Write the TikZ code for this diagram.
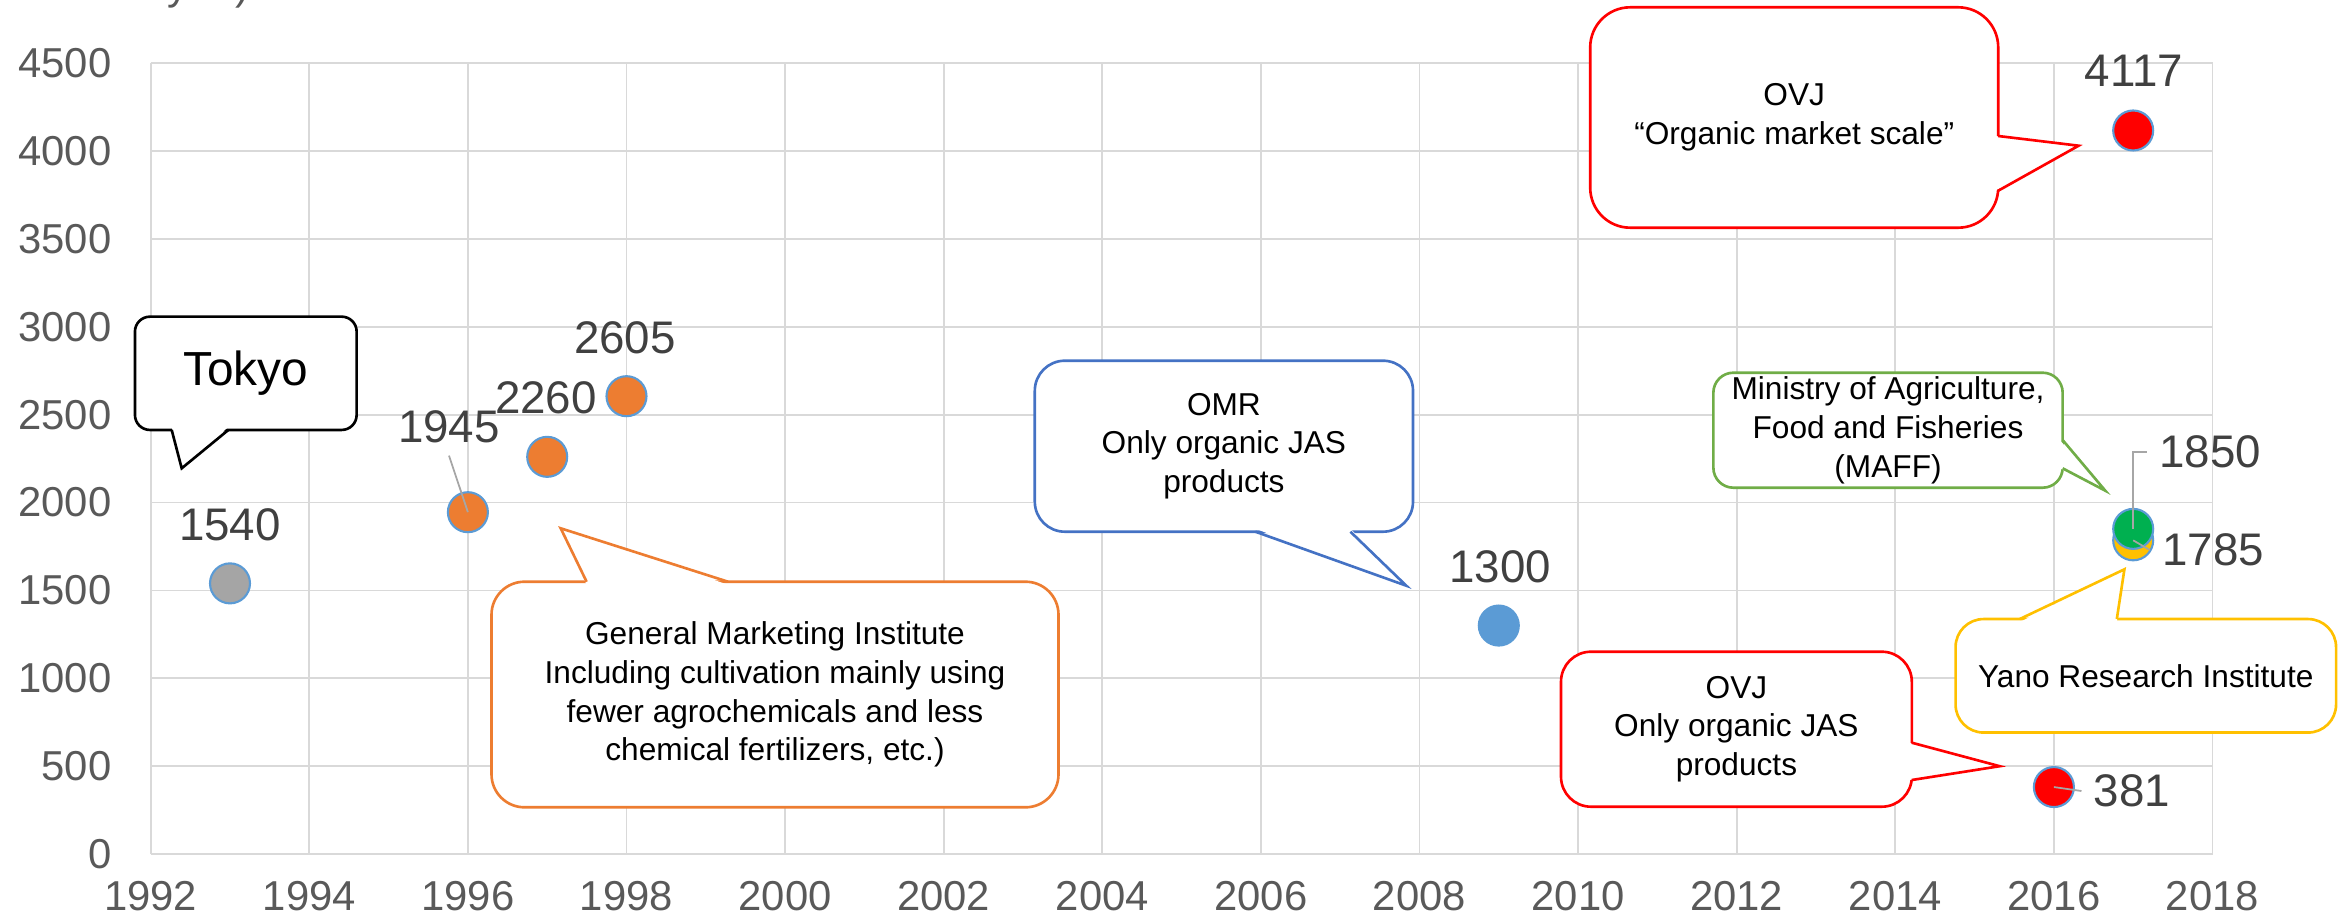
\documentclass[tikz,border=0pt]{standalone}
\usepackage{fontspec}
\setmainfont{Liberation Sans}
\usepackage{xcolor}
\usepackage{tikz}
\usetikzlibrary{calc}
\definecolor{gridGray}{HTML}{D9D9D9}
\definecolor{axisText}{HTML}{595959}
\definecolor{labelText}{HTML}{404040}
\definecolor{pointEdge}{HTML}{5B9BD5}
\definecolor{grayPoint}{HTML}{A5A5A5}
\definecolor{orangeLine}{HTML}{ED7D31}
\definecolor{blueLine}{HTML}{4472C4}
\definecolor{greenLine}{HTML}{70AD47}
\definecolor{greenPoint}{HTML}{00B050}
\definecolor{yellowLine}{HTML}{FFC000}
\definecolor{redLine}{HTML}{FF0000}
\tikzset{grid-line/.style={draw=gridGray, line width=0.5pt}}
\tikzset{axis-label/.style={text=axisText, inner sep=0, font=\fontsize{11.9}{14}\selectfont}}
\tikzset{data-point/.style={circle, draw=pointEdge, line width=0.6pt, inner sep=0, minimum size=4mm}}
\tikzset{data-label/.style={text=labelText, font=\fontsize{13}{15}\selectfont}}
\tikzset{leader-line/.style={draw=gray!70, line width=0.5pt}}
\tikzset{callout-line/.style={line width=0.75pt, line join=miter}}
\tikzset{callout-box/.style={callout-line, draw, fill=white, inner sep=0, align=center,
    font=\fontsize{9}{11}\selectfont}}
\newcommand{\wedgeptr}[5]{
    \fill[white] ($#2+#5$) -- #3 -- ($#4+#5$) -- cycle;
    \draw[callout-line, draw=#1] #2 -- #3 -- #4;
}

\begin{document}
\begin{tikzpicture}[x=0.1mm, y=-0.1mm]
    \useasboundingbox (0,0) rectangle (2339,917);
    \node[axis-label, anchor=base east] (unit) at (250,-1) {(100 million yen)};

    \begin{scope}[shift={(150.7,854)}, x=7.93mm, y=0.017578mm]
        \foreach \k in {0,2,...,26} {
            \pgfmathtruncatemacro{\yr}{1992+\k}
            \draw[grid-line] (\k,0) -- (\k,4500);
            \node[axis-label, anchor=north, yshift=-2.7mm] (xtick\k) at (\k,0) {\yr};
        }
        \foreach \v in {0,500,...,4500} {
            \draw[grid-line] (0,\v) -- (26,\v);
            \node[axis-label, anchor=east, xshift=-3.87mm] (ytick\v) at (0,\v) {\v};
        }
    \end{scope}

    \node[callout-box, draw=black, rounded corners=1.5mm, minimum width=22.17mm, minimum height=11.33mm,
          font=\fontsize{13.6}{16}\selectfont] (tokyo) at (245.8,373.3) {Tokyo};
    \wedgeptr{black}{(171.7,430)}{(181.7,468.3)}{(228.3,430)}{(0,-3)}

    \node[callout-box, draw=orangeLine, rounded corners=3.3mm, minimum width=56.7mm,
          minimum height=22.56mm] (gmi) at (775,694.5)
          {General Marketing Institute\\Including cultivation mainly using\\fewer agrochemicals and less\\chemical fertilizers, etc.)};
    \wedgeptr{orangeLine}{(586.6,581.7)}{(560.7,528.3)}{(728,581.7)}{(0,3)}

    \node[callout-box, draw=blueLine, rounded corners=3mm, minimum width=37.82mm,
          minimum height=17.1mm] (omr) at (1223.9,446.2) {OMR\\Only organic JAS\\products};
    \wedgeptr{blueLine}{(1255.4,531.7)}{(1406.3,585.7)}{(1350.4,531.7)}{(0,-3)}

    \node[callout-box, draw=redLine, rounded corners=4mm, minimum width=40.8mm,
          minimum height=22.04mm] (ovjmarket) at (1794.2,117.5) {OVJ\\“Organic market scale”};
    \wedgeptr{redLine}{(1998.2,136)}{(2078.6,145.7)}{(1998.2,190.7)}{(-3,0)}

    \node[callout-box, draw=greenLine, rounded corners=2mm, minimum width=34.93mm,
          minimum height=11.5mm] (maff) at (1888,430.2)
          {Ministry of Agriculture,\\Food and Fisheries\\(MAFF)};
    \wedgeptr{greenLine}{(2062.6,440)}{(2105.3,490.7)}{(2062.6,468.3)}{(-3,0)}

    \node[callout-box, draw=redLine, rounded corners=3mm, minimum width=35.08mm,
          minimum height=15.5mm] (ovjjas) at (1736.4,729.2) {OVJ\\Only organic JAS\\products};
    \wedgeptr{redLine}{(1911.8,742.7)}{(1999.7,766.2)}{(1911.8,780)}{(-3,0)}

    \node[callout-box, draw=yellowLine, rounded corners=2.8mm, minimum width=38.05mm,
          minimum height=11.35mm] (yano) at (2145.8,675.8) {Yano Research Institute};
    \wedgeptr{yellowLine}{(2019.8,619)}{(2124.4,569.3)}{(2116.8,619)}{(0,3)}

    \begin{scope}[shift={(150.7,854)}, x=7.93mm, y=0.017578mm]
        \node[data-point, fill=grayPoint] (pt1993) at (1,1540) {};
        \node[data-point, fill=orangeLine] (pt1996) at (4,1945) {};
        \node[data-point, fill=orangeLine] (pt1997) at (5,2260) {};
        \node[data-point, fill=orangeLine] (pt1998) at (6,2605) {};
        \node[data-point, fill=pointEdge] (pt2009) at (17,1300) {};
        \node[data-point, fill=redLine] (pt2017r) at (25,4117) {};
        \node[data-point, fill=yellowLine] (pt2017y) at (25,1785) {};
        \node[data-point, fill=greenPoint] (pt2017g) at (25,1850) {};
        \node[data-point, fill=redLine] (pt2016) at (24,381) {};
    \end{scope}

    \node[data-label] (lab1540) at (230,525) {1540};
    \node[data-label] (lab1945) at (449,427) {1945};
    \node[data-label] (lab2260) at (546,398) {2260};
    \node[data-label] (lab2605) at (625,338) {2605};
    \node[data-label] (lab1300) at (1500,567) {1300};
    \node[data-label] (lab4117) at (2134,71) {4117};
    \node[data-label] (lab1850) at (2210,452) {1850};
    \node[data-label] (lab1785) at (2213,550) {1785};
    \node[data-label] (lab381) at (2132,791) {381};

    \draw[leader-line] (lab1945.south) -- (pt1996.center);
    \draw[leader-line] (lab1850.west) -| (pt2017g.center);
    \draw[leader-line] (pt2017y.center) -- (lab1785.west);
    \draw[leader-line] (pt2016.center) -- (lab381.west);
\end{tikzpicture}
\end{document}
